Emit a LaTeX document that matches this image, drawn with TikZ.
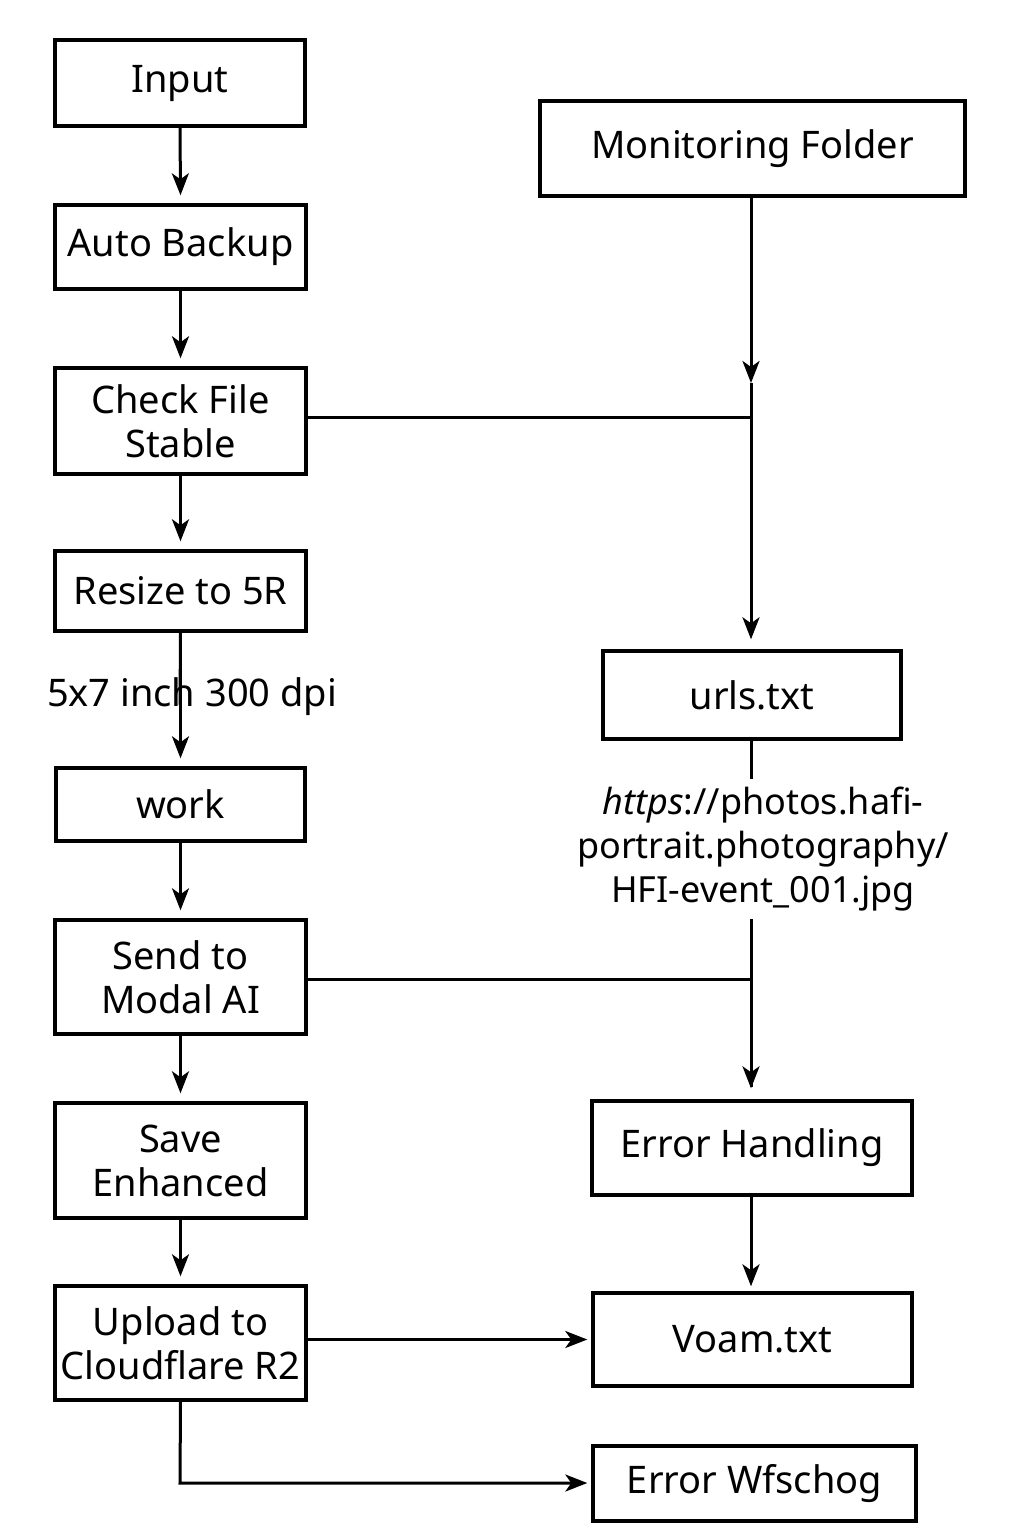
\documentclass[tikz,border=0pt]{standalone}
\usepackage{fontspec}
\setmainfont{Noto Sans}
\usetikzlibrary{arrows.meta}
\begin{document}
\begin{tikzpicture}[x=0.5pt,y=-0.5pt,
  box/.style={draw,line width=1.7pt,inner sep=0pt,align=center,font=\fontsize{19pt}{22pt}\selectfont},
  conn/.style={line width=1.5pt},
  arr/.style={conn,-{Stealth[length=11pt,width=8.5pt,inset=3pt]}},
  lbl/.style={font=\fontsize{19pt}{22pt}\selectfont,align=center,inner sep=0pt}]
\useasboundingbox (0,0) rectangle (1024,1536);
% left column
\node[box,minimum width=125pt,minimum height=43pt] (input) at (180,83) {\raisebox{-2pt}{Input}};
\node[box,minimum width=125.5pt,minimum height=42pt] (backup) at (180.5,247) {\raisebox{-2pt}{Auto Backup}};
\node[box,minimum width=125.5pt,minimum height=53pt] (check) at (180.5,421) {Check File\\Stable};
\node[box,minimum width=125.5pt,minimum height=40pt] (resize) at (180.5,591) {\raisebox{-1pt}{Resize to 5R}};
\node[box,minimum width=124.5pt,minimum height=36.5pt] (work) at (180.5,804.5) {work};
\node[box,minimum width=125.5pt,minimum height=57pt] (send) at (180.5,977) {Send to\\Modal AI};
\node[box,minimum width=125.5pt,minimum height=57.5pt] (save) at (180.5,1160.5) {Save\\Enhanced};
\node[box,minimum width=125.5pt,minimum height=57pt] (upload) at (180.5,1343) {Upload to\\Cloudflare R2};
% right column
\node[box,minimum width=212.5pt,minimum height=47.5pt] (mon) at (752.5,148.5) {\raisebox{-2pt}{Monitoring Folder}};
\node[box,minimum width=149pt,minimum height=44pt] (urls) at (752,695) {urls.txt};
\node[box,minimum width=160pt,minimum height=47pt] (err) at (752,1148) {\raisebox{-1pt}{Error Handling}};
\node[box,minimum width=159.5pt,minimum height=46.5pt] (voam) at (752.5,1339.5) {Voam.txt};
\node[box,minimum width=161.5pt,minimum height=37.5pt] (errw) at (754.5,1483.5) {\raisebox{-1.5pt}{Error Wfschog}};
% coordinates
\coordinate (a1) at (751,383);
\coordinate (j1) at (751,417);
\coordinate (j2) at (751,979);
\coordinate (c1) at (180,1483);
% left connectors
\draw[arr] (input.south) -- ([yshift=4pt]backup.north);
\draw[arr] (backup.south) -- ([yshift=4pt]check.north);
\draw[arr] (check.south) -- ([yshift=4pt]resize.north);
\draw[arr] (resize.south) -- ([yshift=4pt]work.north);
\draw[arr] (work.south) -- ([yshift=4pt]send.north);
\draw[arr] (send.south) -- ([yshift=4pt]save.north);
\draw[arr] (save.south) -- ([yshift=4pt]upload.north);
\draw[arr] (upload.south) -- (c1) -- ([xshift=-2pt]errw.west |- c1);
\draw[arr] (upload.east |- voam.west) -- ([xshift=-2pt]voam.west);
% right connectors
\draw[arr] (mon.south -| a1) -- (a1);
\draw[arr] (a1) -- ([yshift=5pt]urls.north -| a1);
\draw[conn] (check.east |- j1) -- (j1);
\draw[conn] (urls.south -| j2) -- ([yshift=6pt]err.north -| j2);
\draw[arr] (j2) -- ([yshift=5.5pt]err.north -| j2);
\draw[conn] (send.east |- j2) -- (j2);
\draw[arr] (err.south -| j2) -- ([yshift=2.5pt]voam.north -| j2);
% labels
\node[lbl,font=\fontsize{18pt}{22pt}\selectfont,fill=white,inner ysep=4pt] (url) at (763,849) {\textit{https}://photos.hafi-\\portrait.photography/\\HFI-event\_001.jpg};
\node[lbl] (dim) at (192,697) {5x7 inch 300 dpi};
\draw[conn] (resize.south) -- (180,705);
\end{tikzpicture}
\end{document}
